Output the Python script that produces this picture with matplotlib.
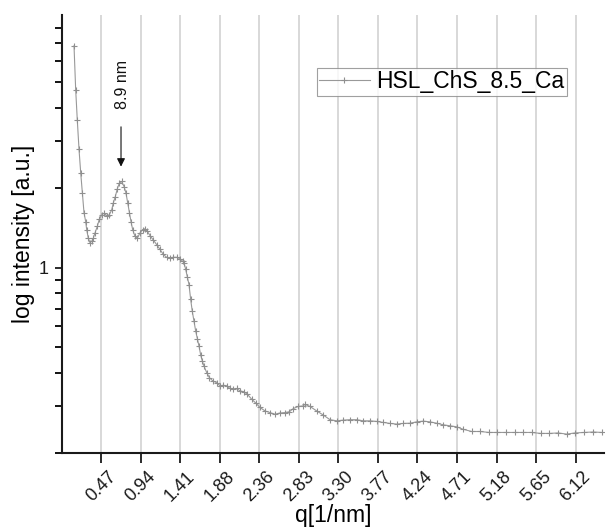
import numpy as np
import matplotlib
matplotlib.use("Agg")
import matplotlib.pyplot as plt
from matplotlib.ticker import LogLocator, NullFormatter, FixedLocator, FixedFormatter

plt.rcParams['font.family'] = ['Liberation Sans', 'DejaVu Sans']

series_name = "HSL_ChS_8.5_Ca"

q = [0.149, 0.169, 0.188, 0.2085, 0.229, 0.248, 0.268, 0.288, 0.300, 0.319,
     0.340, 0.360, 0.379, 0.399, 0.427, 0.450, 0.479, 0.506, 0.539, 0.570,
     0.598, 0.617, 0.641, 0.665, 0.689, 0.717, 0.745, 0.768, 0.789, 0.808,
     0.828, 0.848, 0.876, 0.903, 0.935, 0.967, 0.995, 1.022, 1.054, 1.094,
     1.134, 1.174, 1.213, 1.253, 1.293, 1.332, 1.373, 1.412, 1.444, 1.460,
     1.480, 1.499, 1.519, 1.539, 1.558, 1.579, 1.599, 1.618, 1.638, 1.659,
     1.678, 1.698, 1.730, 1.761, 1.802, 1.849, 1.889, 1.928, 1.968, 2.008,
     2.047, 2.087, 2.127, 2.174, 2.214, 2.266, 2.317, 2.365, 2.425, 2.484,
     2.544, 2.603, 2.663, 2.714, 2.762, 2.821, 2.881, 2.901, 2.961, 3.041,
     3.119, 3.199, 3.279, 3.358, 3.437, 3.517, 3.596, 3.676, 3.756, 3.834,
     3.914, 3.994, 4.073, 4.152, 4.232, 4.311, 4.391, 4.470, 4.549, 4.629,
     4.709, 4.780, 4.887, 4.986, 5.097, 5.192, 5.296, 5.403, 5.502, 5.602,
     5.710, 5.808, 5.919, 6.019, 6.118, 6.225, 6.336, 6.436]

intensity = [6.85, 4.67, 3.60, 2.79, 2.27, 1.91, 1.61, 1.49, 1.39, 1.29,
             1.24, 1.256, 1.29, 1.35, 1.43, 1.52, 1.58, 1.60, 1.57, 1.58,
             1.65, 1.75, 1.85, 1.98, 2.08, 2.11, 2.02, 1.91, 1.75, 1.61,
             1.49, 1.39, 1.31, 1.29, 1.35, 1.39, 1.40, 1.37, 1.32, 1.27,
             1.22, 1.17, 1.12, 1.093, 1.088, 1.093, 1.093, 1.078, 1.056, 1.041,
             0.983, 0.923, 0.863, 0.758, 0.685, 0.628, 0.576, 0.540, 0.506, 0.467,
             0.444, 0.425, 0.402, 0.385, 0.374, 0.368, 0.358, 0.360, 0.358, 0.350,
             0.348, 0.350, 0.343, 0.340, 0.333, 0.319, 0.308, 0.297, 0.288, 0.284,
             0.280, 0.283, 0.284, 0.286, 0.294, 0.2995, 0.301, 0.305, 0.2995, 0.288,
             0.278, 0.267, 0.2644, 0.266, 0.267, 0.267, 0.2644, 0.2644, 0.263, 0.2607,
             0.2585, 0.257, 0.2585, 0.259, 0.262, 0.2637, 0.262, 0.259, 0.2554, 0.2532,
             0.2510, 0.246, 0.241, 0.241, 0.239, 0.239, 0.239, 0.239, 0.239, 0.239,
             0.237, 0.237, 0.238, 0.2356, 0.238, 0.239, 0.240, 0.239]

xtick_values = [0.4712, 0.9425, 1.4137, 1.8850, 2.3562, 2.8274, 3.2987,
                3.7699, 4.2412, 4.7124, 5.1836, 5.6549, 6.1261]
xtick_labels = ["0.47", "0.94", "1.41", "1.88", "2.36", "2.83", "3.30",
                "3.77", "4.24", "4.71", "5.18", "5.65", "6.12"]

peak_q = 0.709
peak_label = "8.9 nm"

fig = plt.figure(figsize=(6.06, 5.29), dpi=100)
ax = fig.add_axes([0.1015, 0.1437, 0.896, 0.828])

ax.set_yscale('log')
ax.set_xlim(0, 6.47)
ax.set_ylim(0.2, 8.95)

for xv in xtick_values:
    ax.axvline(xv, color='#d6d6d6', lw=1.3, zorder=0)

ax.plot(q, intensity, color='#999999', lw=0.8, marker='+', ms=5,
        mew=0.8, mec='#8f8f8f', label=series_name, zorder=3)

ax.xaxis.set_major_locator(FixedLocator(xtick_values))
ax.xaxis.set_major_formatter(FixedFormatter(xtick_labels))
ax.yaxis.set_major_locator(FixedLocator([1.0]))
ax.yaxis.set_major_formatter(FixedFormatter(["1"]))
ax.yaxis.set_minor_locator(LogLocator(base=10, subs=np.arange(2, 10)))
ax.yaxis.set_minor_formatter(NullFormatter())

for lab in ax.get_xticklabels():
    lab.set_rotation(45)
    lab.set_ha('center')
    lab.set_va('top')
    lab.set_x(lab.get_position()[0])

ax.tick_params(axis='x', which='major', direction='out', length=7, width=1.3,
               labelsize=13, pad=4, colors='#1a1a1a')
ax.tick_params(axis='y', which='major', direction='out', length=5, width=1.3,
               labelsize=13, pad=4, colors='#1a1a1a')
ax.tick_params(axis='y', which='minor', direction='out', length=5, width=1.3)

for s in ['top', 'right']:
    ax.spines[s].set_visible(False)
for s in ['left', 'bottom']:
    ax.spines[s].set_linewidth(1.5)
    ax.spines[s].set_color('#1a1a1a')

ax.set_xlabel("q[1/nm]", fontsize=16.5, va='top')
ax.xaxis.set_label_coords(0.5, -0.117)
ax.set_ylabel("log intensity [a.u.]", fontsize=16.5, labelpad=3)

ax.annotate('', xy=(peak_q, 2.40), xytext=(peak_q, 3.39),
            arrowprops=dict(arrowstyle='-|>', color='#111111', lw=0.8,
                            mutation_scale=12, shrinkA=0, shrinkB=0))
ax.text(0.721, 4.875, peak_label, rotation=90, ha='center', va='center',
        fontsize=11.5, color='#111111')

leg = ax.legend(loc='upper left', bbox_to_anchor=(317/606, 1 - 68/529),
                bbox_transform=fig.transFigure, fontsize=16.5, frameon=True,
                fancybox=False, borderpad=0.1, handlelength=2.2,
                handletextpad=0.3, borderaxespad=0, markerscale=0.8)
leg.get_frame().set_edgecolor('#888888')
leg.get_frame().set_linewidth(0.8)

fig.savefig("out.png", dpi=100)
